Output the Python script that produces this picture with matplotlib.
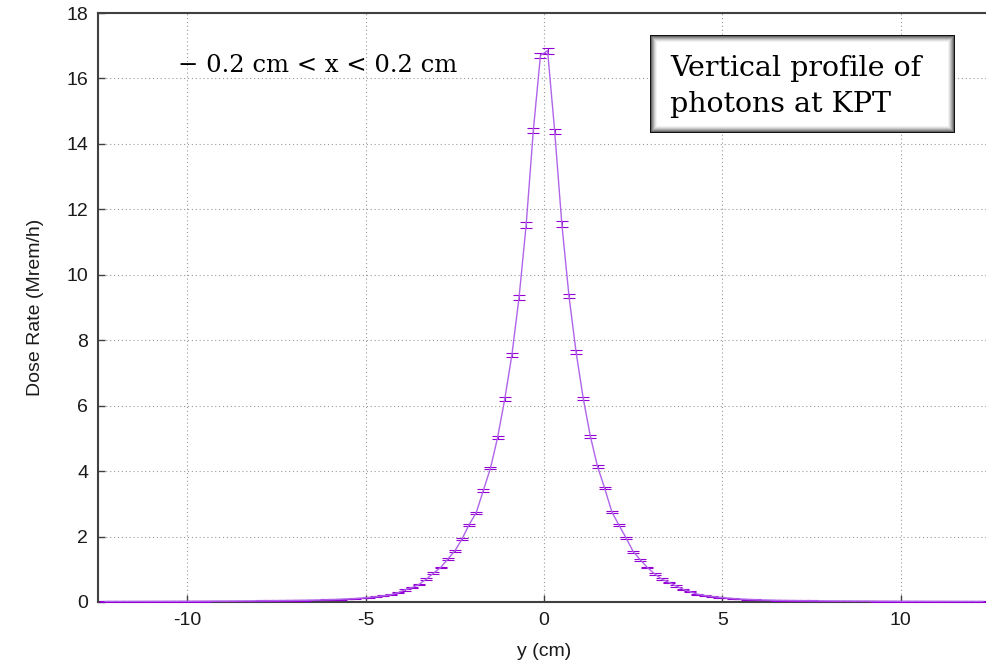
import numpy as np
import matplotlib
matplotlib.use("Agg")
from matplotlib import pyplot as plt
from matplotlib.patches import Rectangle

plt.rcParams['axes.unicode_minus'] = False

# dose rate (Mrem/h), bins centred at +/-0.1, +/-0.3, ... going outward from y = 0
dose_left = [16.70, 14.40, 11.52, 9.30, 7.55, 6.20, 5.03, 4.09, 3.41, 2.73,
             2.36, 1.92, 1.56, 1.31, 1.05, 0.88, 0.70, 0.54, 0.44, 0.37,
             0.28, 0.22, 0.19, 0.16, 0.14, 0.12, 0.105, 0.095, 0.085, 0.075,
             0.068, 0.062, 0.057, 0.053, 0.05, 0.047, 0.044, 0.041, 0.039, 0.037,
             0.035, 0.033, 0.031, 0.03, 0.028, 0.027, 0.026, 0.025, 0.024, 0.023,
             0.022, 0.021, 0.02, 0.019, 0.019, 0.018, 0.017, 0.017, 0.016, 0.016,
             0.015, 0.015]
dose_right = [16.85, 14.38, 11.55, 9.35, 7.63, 6.22, 5.06, 4.14, 3.48, 2.76,
              2.35, 1.96, 1.54, 1.29, 1.05, 0.86, 0.70, 0.60, 0.49, 0.39,
              0.31, 0.24, 0.20, 0.17, 0.145, 0.125, 0.105, 0.09, 0.08, 0.07,
              0.062, 0.056, 0.051, 0.047, 0.044, 0.041, 0.039, 0.037, 0.035, 0.033,
              0.031, 0.03, 0.029, 0.028, 0.027, 0.026, 0.025, 0.024, 0.023, 0.022,
              0.021, 0.02, 0.02, 0.019, 0.018, 0.018, 0.017, 0.017, 0.016, 0.016,
              0.015, 0.015]
err_left = [0.09, 0.08, 0.08, 0.07, 0.06, 0.05, 0.05, 0.04, 0.04, 0.035,
            0.035, 0.03, 0.03, 0.03, 0.025, 0.025, 0.02, 0.02, 0.02, 0.02,
            0.015, 0.015, 0.015, 0.01, 0.01] + [0.01] * 37
err_right = [0.09, 0.08, 0.08, 0.07, 0.06, 0.05, 0.05, 0.04, 0.04, 0.035,
             0.035, 0.03, 0.03, 0.03, 0.025, 0.025, 0.02, 0.02, 0.02, 0.02,
             0.015, 0.015, 0.015, 0.01, 0.01] + [0.01] * 37

y_cm = np.round(np.arange(-12.3, 12.31, 0.2), 1)
dose = np.array(dose_left[::-1] + dose_right)
err = np.array(err_left[::-1] + err_right)

fig = plt.figure(figsize=(9.86, 6.62), dpi=100)
ax = fig.add_axes([98 / 986, 1 - 602 / 662, 892 / 986, 589 / 662])

ax.errorbar(y_cm, dose, yerr=err, color='#b064ea', ecolor='#9400d3', lw=1.0,
            elinewidth=0.8, capsize=4, capthick=0.8, zorder=3)

ax.set_xlim(-12.5, 12.5)
ax.set_ylim(0, 18)
ax.set_xticks([-10, -5, 0, 5, 10])
ax.set_yticks(np.arange(0, 19, 2))
ax.grid(True, color='#9a9a9a', lw=0.8, ls=(0, (1, 2.5)))
ax.tick_params(direction='in', length=5, width=1, colors='#404040',
               labelcolor='#1a1a1a', labelsize=14, pad=7)
for lab in ax.get_xticklabels() + ax.get_yticklabels():
    lab.set_family('Liberation Sans')
for s in ax.spines.values():
    s.set_color('#404040')
    s.set_linewidth(1.5)

ax.set_xlabel('y (cm)', family='Liberation Sans', fontsize=14, color='#1a1a1a', labelpad=10)
ax.set_ylabel('Dose Rate (Mrem/h)', family='Liberation Sans', fontsize=14, color='#1a1a1a', labelpad=16)

fig.text(178 / 986, 1 - 66 / 662, '\u2212 0.2 cm < x < 0.2 cm', family='DejaVu Serif',
         fontsize=17.5, va='center', ha='left')

# bevelled legend box
bx0, by0, bx1, by1 = 650, 35, 955, 133
shades = ['#111111', '#666666', '#8c8c8c', '#ababab', '#c8c8c8', '#e0e0e0', '#f2f2f2']
for i, c in enumerate(shades):
    r = Rectangle(((bx0 + i) / 986, 1 - (by1 - i) / 662), (bx1 - bx0 - 2 * i) / 986,
                  (by1 - by0 - 2 * i) / 662, transform=fig.transFigure,
                  facecolor=c, edgecolor='none', zorder=5)
    fig.patches.append(r)
fig.patches.append(Rectangle(((bx0 + 7) / 986, 1 - (by1 - 7) / 662), (bx1 - bx0 - 14) / 986,
                             (by1 - by0 - 14) / 662, transform=fig.transFigure,
                             facecolor='white', edgecolor='none', zorder=6))
fig.text(670 / 986, 1 - 68 / 662, 'Vertical profile of', family='DejaVu Serif',
         fontsize=20.5, va='center', ha='left', zorder=7)
fig.text(670 / 986, 1 - 104 / 662, 'photons at KPT', family='DejaVu Serif',
         fontsize=20.5, va='center', ha='left', zorder=7)

fig.savefig('out.png', dpi=100)
